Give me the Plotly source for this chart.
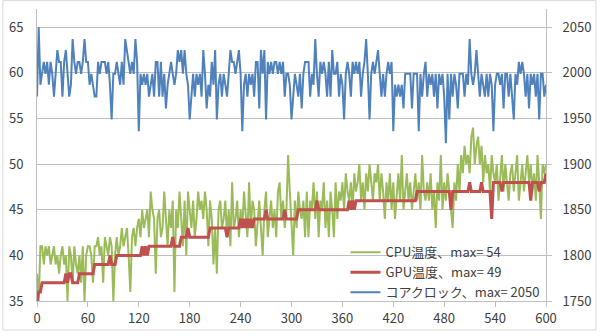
import plotly.graph_objects as go

# time axis (seconds), sampled every 2 s
time_s = list(range(0, 601, 2))

cpu_temp = [
    38, 35, 41, 41, 39, 41, 40, 41, 39, 40,
    41, 39, 40, 38, 40, 41, 39, 40, 35, 41,
    40, 37, 41, 39, 38, 40, 37, 41, 35, 40,
    41, 41, 40, 37, 41, 41, 42, 40, 41, 37,
    42, 41, 40, 42, 41, 35, 40, 42, 40, 41,
    43, 41, 42, 43, 40, 36, 42, 43, 41, 43,
    44, 42, 45, 43, 44, 45, 42, 47, 45, 44,
    38, 44, 45, 42, 43, 47, 44, 41, 45, 43,
    46, 36, 45, 43, 47, 44, 41, 46, 40, 47,
    45, 43, 46, 42, 44, 47, 45, 46, 44, 47,
    45, 41, 46, 44, 39, 43, 38, 45, 46, 43,
    44, 46, 42, 45, 41, 48, 43, 44, 46, 42,
    45, 43, 47, 44, 42, 48, 43, 46, 45, 41,
    44, 46, 43, 40, 45, 47, 42, 44, 46, 43,
    45, 42, 47, 48, 44, 46, 43, 45, 51, 47,
    44, 40, 46, 43, 47, 45, 44, 46, 42, 47,
    42, 46, 45, 48, 44, 47, 42, 46, 45, 48,
    43, 46, 42, 47, 45, 42, 48, 44, 47, 46,
    48, 45, 49, 47, 46, 48, 45, 49, 47, 48,
    50, 46, 48, 45, 49, 47, 50, 48, 46, 49,
    48, 50, 46, 49, 47, 44, 48, 46, 49, 45,
    48, 44, 47, 49, 46, 51, 45, 47, 49, 46,
    48, 45, 47, 49, 46, 48, 45, 51, 47, 46,
    48, 46, 49, 45, 47, 43, 48, 46, 51, 45,
    48, 46, 49, 47, 45, 43, 48, 46, 50, 47,
    51, 49, 52, 50, 51, 49, 53, 54, 50, 52,
    53, 50, 52, 48, 51, 49, 50, 47, 51, 49,
    48, 50, 46, 49, 51, 47, 50, 48, 46, 49,
    50, 47, 49, 51, 46, 48, 50, 47, 49, 51,
    48, 50, 47, 49, 46, 51, 48, 44, 50, 49,
    50,
]

gpu_temp = [
    35, 36, 36, 37, 37, 37, 37, 37, 37, 37,
    37, 37, 37, 37, 37, 37, 37, 38, 37, 38,
    38, 37, 37, 37, 37, 38, 38, 38, 38, 38,
    38, 38, 38, 38, 39, 39, 39, 39, 39, 39,
    39, 39, 39, 40, 39, 39, 39, 40, 40, 40,
    40, 40, 40, 40, 40, 40, 40, 40, 40, 40,
    40, 40, 41, 40, 41, 40, 41, 41, 41, 41,
    41, 41, 41, 41, 41, 41, 41, 41, 41, 41,
    42, 41, 41, 41, 41, 42, 42, 42, 42, 43,
    42, 42, 42, 42, 42, 42, 42, 42, 42, 42,
    42, 42, 43, 43, 43, 43, 43, 43, 43, 43,
    43, 43, 42, 43, 43, 43, 43, 43, 43, 43,
    44, 43, 44, 43, 44, 43, 44, 43, 44, 44,
    44, 44, 44, 44, 44, 45, 44, 44, 44, 44,
    44, 44, 44, 44, 44, 44, 45, 44, 44, 44,
    44, 44, 44, 44, 45, 45, 45, 45, 45, 45,
    45, 45, 45, 45, 45, 46, 45, 45, 45, 45,
    45, 45, 45, 45, 45, 45, 45, 45, 45, 45,
    45, 45, 45, 45, 46, 45, 46, 45, 46, 46,
    46, 46, 46, 46, 46, 46, 46, 46, 46, 46,
    46, 46, 46, 46, 46, 46, 46, 46, 46, 46,
    46, 46, 46, 46, 46, 46, 46, 46, 46, 46,
    46, 46, 46, 46, 47, 47, 47, 47, 47, 47,
    47, 47, 47, 47, 47, 47, 47, 47, 47, 47,
    47, 47, 47, 47, 45, 47, 47, 47, 47, 47,
    47, 47, 47, 47, 47, 48, 47, 47, 47, 47,
    47, 47, 48, 47, 47, 47, 47, 47, 44, 48,
    48, 48, 48, 48, 47, 48, 48, 48, 48, 48,
    48, 48, 48, 48, 48, 48, 48, 48, 48, 48,
    48, 46, 48, 48, 48, 48, 47, 48, 48, 48,
    49,
]

core_clock = [
    1974, 2050, 1987, 1999, 2012, 1999, 2012, 1987, 2012, 1999,
    1974, 1999, 2025, 2012, 2012, 1974, 2012, 2025, 1999, 1974,
    1987, 2037, 2012, 1999, 2012, 2012, 1999, 2012, 2037, 2012,
    2012, 1987, 1999, 1987, 1974, 1974, 2012, 1999, 2012, 2012,
    2012, 1999, 2012, 1987, 1949, 1999, 1999, 2012, 1999, 1987,
    2012, 1987, 2037, 2025, 2012, 1999, 2012, 1999, 2037, 2012,
    1936, 1999, 1987, 1999, 1987, 1999, 1974, 1987, 1999, 1974,
    2012, 2012, 1974, 2012, 1974, 1999, 1961, 1987, 1999, 2012,
    1999, 1987, 1999, 2025, 2012, 2025, 1999, 2025, 1999, 1987,
    1949, 1974, 1999, 1974, 1999, 1987, 1999, 1974, 2025, 1999,
    1961, 1987, 1974, 2012, 1987, 2025, 1949, 1987, 1999, 1974,
    1999, 1987, 1974, 1999, 2025, 2012, 2012, 1999, 2012, 2025,
    1999, 1936, 1987, 1999, 1974, 1999, 1987, 1999, 1974, 2012,
    2012, 1961, 2025, 1999, 2025, 1949, 2012, 1999, 2012, 1999,
    2012, 2012, 1999, 2012, 1999, 2012, 1974, 1999, 1999, 1987,
    1949, 1974, 1999, 1987, 1974, 1999, 1961, 1999, 2012, 2012,
    2012, 1974, 1999, 1987, 2037, 1999, 1974, 2012, 1999, 2012,
    1999, 1974, 2012, 1974, 2025, 1999, 1999, 2012, 1974, 1999,
    1987, 1949, 1999, 2012, 1999, 1974, 2012, 1999, 2012, 1999,
    2012, 1974, 1999, 2012, 2037, 1999, 1949, 1999, 2012, 1999,
    2012, 2025, 1999, 1974, 1999, 1974, 1999, 2012, 1999, 2012,
    1936, 1987, 1974, 1987, 1974, 1987, 1961, 1999, 1999, 1999,
    1999, 1961, 1999, 1999, 1999, 1936, 1999, 1974, 1999, 2012,
    1974, 1999, 1987, 1999, 1974, 1999, 1961, 1999, 1987, 1999,
    1974, 1923, 1999, 1949, 1999, 1974, 1999, 1987, 1961, 1999,
    1999, 1999, 1974, 1999, 1987, 2037, 1999, 1987, 1999, 2025,
    1999, 1974, 1999, 1987, 1974, 1999, 1974, 1999, 1987, 1936,
    1987, 1999, 1999, 1987, 1999, 1961, 1999, 1999, 1974, 1999,
    1974, 1949, 1999, 1987, 2012, 1999, 2012, 1999, 1974, 1999,
    1961, 1999, 1987, 1999, 1974, 1999, 1949, 1999, 1999, 1974,
    1987,
]

series_names = ["CPU温度、max= 54", "GPU温度、max= 49", "コアクロック、max= 2050"]
x_ticks = list(range(0, 601, 60))
left_ticks = [35, 40, 45, 50, 55, 60, 65]
right_ticks = [1750, 1800, 1850, 1900, 1950, 2000, 2050]

FONT = "Noto Sans CJK JP, Noto Sans, sans-serif"
AX = "#bfbfbf"
TXT = "#404040"
W, H = 514, 297  # plot area size in px


def px_x(p):
    return (p - 35) / W


def px_y(p):
    return (306 - p) / H


fig = go.Figure()
fig.add_trace(go.Scatter(x=time_s, y=cpu_temp, name=series_names[0], mode="lines",
                         line=dict(color="#9bbb59", width=2)))
fig.add_trace(go.Scatter(x=time_s, y=gpu_temp, name=series_names[1], mode="lines",
                         line=dict(color="#c0504d", width=3)))
fig.add_trace(go.Scatter(x=time_s, y=core_clock, name=series_names[2], mode="lines",
                         line=dict(color="#4f81bd", width=2), yaxis="y2"))

fig.update_layout(
    width=600, height=336,
    margin=dict(l=35, r=51, t=9, b=30),
    paper_bgcolor="white", plot_bgcolor="white",
    font=dict(family=FONT, size=13, color=TXT),
    showlegend=True,
    legend=dict(x=0.606, y=-0.022, xanchor="left", yanchor="bottom",
                bgcolor="rgba(0,0,0,0)", borderwidth=0,
                font=dict(size=13, color=TXT), tracegroupgap=0),
    xaxis=dict(range=[0, 600], tickvals=x_ticks, ticks="outside", ticklen=5,
               tickcolor=AX, showline=True, linecolor=AX, linewidth=1,
               showgrid=False, zeroline=False, tickfont=dict(size=13, color=TXT)),
    yaxis=dict(range=[35, 67], tickvals=left_ticks, showgrid=True, gridcolor=AX,
               gridwidth=1, showline=True, linecolor=AX, zeroline=False,
               ticks="", ticklabelstandoff=10, tickfont=dict(size=13, color=TXT)),
    yaxis2=dict(range=[1750, 2070], tickvals=right_ticks, overlaying="y", side="right",
                showgrid=False, showline=True, linecolor=AX, zeroline=False,
                ticks="outside", ticklen=5, tickcolor=AX, ticklabelstandoff=8,
                tickfont=dict(size=13, color=TXT)),
    shapes=[
        dict(type="rect", xref="paper", yref="paper",
             x0=px_x(352), x1=px_x(548), y0=px_y(304), y1=px_y(238),
             line=dict(width=0), fillcolor="white", layer="below"),
        dict(type="rect", xref="paper", yref="paper",
             x0=px_x(0.5), x1=px_x(599.5), y0=px_y(335.5), y1=px_y(0.5),
             line=dict(color="#d9d9d9", width=1), fillcolor="rgba(0,0,0,0)",
             layer="above"),
    ],
)

fig.write_html("out.html")
